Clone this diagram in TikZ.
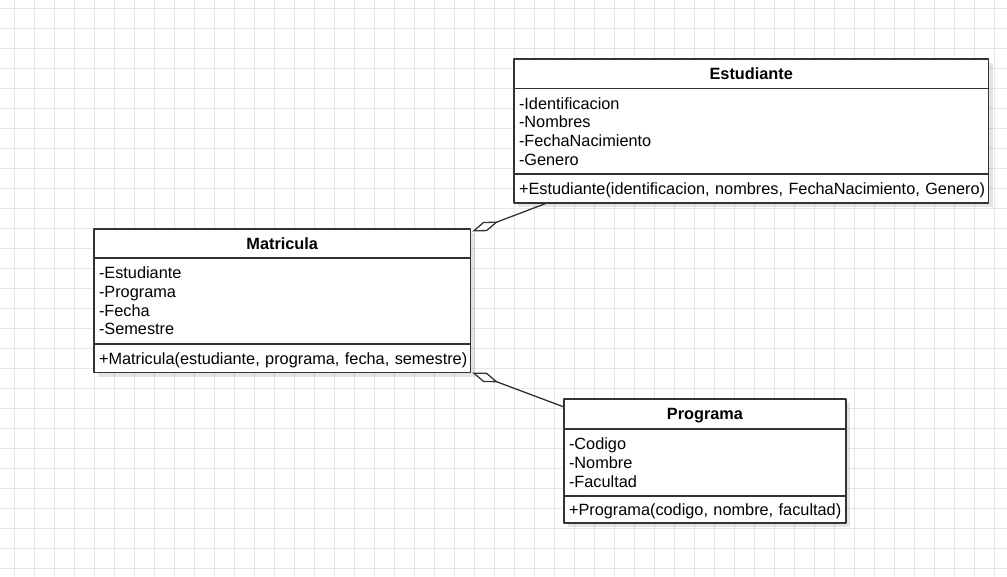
\documentclass[tikz,border=0pt]{standalone}
\usepackage{fontspec}
\setmainfont{Liberation Sans}
\usetikzlibrary{positioning,arrows.meta,shadows}
\definecolor{umlline}{HTML}{333333}
\definecolor{gridgray}{HTML}{E6E6E6}
\newcommand{\umlfont}{\fontsize{16.3}{18.7}\selectfont}
\tikzset{
  clase/.style={draw=umlline, fill=white, line width=1.3pt, outer sep=0pt, inner xsep=5pt, inner ysep=0pt,
    drop shadow={shadow xshift=4pt, shadow yshift=-4pt, opacity=0.10, fill=black}},
  titulo/.style={clase, font=\umlfont\bfseries, align=center, text height=12pt, text depth=0.5pt},
  campos/.style={clase, font=\umlfont, align=left},
  metodo/.style={campos, text height=12pt, text depth=0.5pt},
  agrega/.style={draw=umlline, line width=1.3pt, -{Diamond[open, fill=white, length=28pt, width=10pt]}},
}
\begin{document}
\begin{tikzpicture}[x=1pt, y=-1pt, line join=round, line cap=round]
	\useasboundingbox (0,0) rectangle (1007,576);
	% cuadricula
	\foreach \gx in {14,34,...,994} \draw[gridgray, line width=1pt] (\gx,0) -- (\gx,576);
	\foreach \gy in {8,28,...,568} \draw[gridgray, line width=1pt] (0,\gy) -- (1007,\gy);
	% Estudiante
	\node (estT) at (514,59) [titulo, anchor=north west, minimum width=474.5pt, minimum height=29.5pt] {Estudiante};
	\node (estA) [campos, below=0pt of estT, text width=464.5pt, minimum height=85.5pt] {-Identificacion\\-Nombres\\-FechaNacimiento\\-Genero};
	\node (estM) [metodo, below=0pt of estA, text width=464.5pt, minimum height=29pt] {\mbox{+Estudiante(identificacion, nombres, FechaNacimiento, Genero)}};
	% Matricula
	\node (matT) at (94,229) [titulo, anchor=north west, minimum width=376.5pt, minimum height=29pt] {Matricula};
	\node (matA) [campos, below=0pt of matT, text width=366.5pt, minimum height=86pt] {-Estudiante\\-Programa\\-Fecha\\-Semestre};
	\node (matM) [metodo, below=0pt of matA, text width=366.5pt, minimum height=28.5pt] {\mbox{+Matricula(estudiante, programa, fecha, semestre)}};
	% Programa
	\node (proT) at (564,399) [titulo, anchor=north west, minimum width=282pt, minimum height=30pt] {Programa};
	\node (proA) [campos, below=0pt of proT, text width=272pt, minimum height=67pt] {-Codigo\\-Nombre\\-Facultad};
	\node (proM) [metodo, below=0pt of proA, text width=272pt, minimum height=27pt] {\mbox{+Programa(codigo, nombre, facultad)}};
	% agregaciones
	\draw[agrega] ([xshift=33pt]estM.south west) -- ([xshift=1.5pt,yshift=-2.5pt]matT.north east);
	\draw[agrega] ([yshift=-8pt]proT.north west) -- ([xshift=1.5pt]matM.south east);
\end{tikzpicture}
\end{document}
